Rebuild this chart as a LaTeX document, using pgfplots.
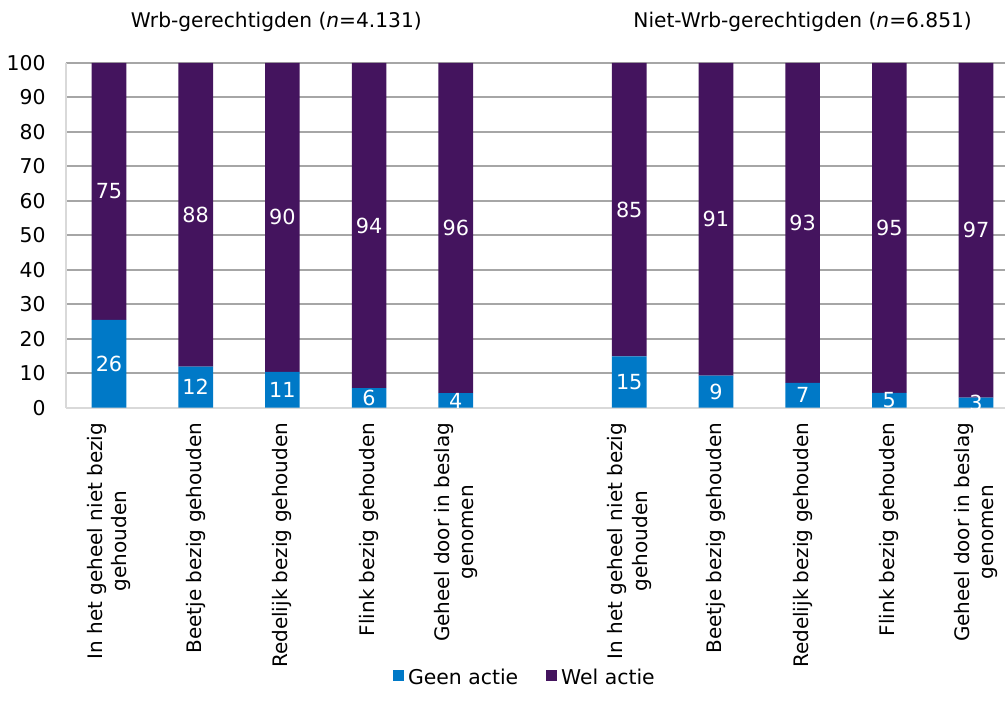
\documentclass[border=0pt]{standalone}
\usepackage{fontspec}
\setmainfont{DejaVu Sans}
\usepackage{pgfplots}
\usepackage{pgfplotstable}
\pgfplotsset{compat=1.18}
\definecolor{geen}{RGB}{0,121,199}
\definecolor{wel}{RGB}{68,20,94}
\definecolor{gridc}{RGB}{166,166,166}
\definecolor{axc}{RGB}{217,217,217}

\pgfplotstableread{
x geen wel
0 25.5 74.5
1 11.9 88.1
2 10.4 89.6
3 5.7 94.3
4 4.2 95.8
6 14.9 85.1
7 9.3 90.7
8 7.2 92.8
9 4.3 95.7
10 2.9 97.1
}\data

\pgfplotstableread{
x y lab
0 12.75 26
1 5.95 12
2 5.2 11
3 2.85 6
4 2.1 4
6 7.45 15
7 4.65 9
8 3.6 7
9 2.15 5
10 1.45 3
0 62.75 75
1 55.95 88
2 55.2 90
3 52.85 94
4 52.1 96
6 57.45 85
7 54.65 91
8 53.6 93
9 52.15 95
10 51.45 97
}\labels

\begin{document}
\begin{tikzpicture}
\begin{axis}[
  scale only axis,
  width=470pt, height=172.5pt,
  xmin=-0.5, xmax=10.334,
  ymin=0, ymax=100,
  ybar stacked, bar width=0.4,
  clip=false,
  axis x line*=bottom, axis y line*=left,
  axis line style={draw=axc, line width=1pt},
  ymajorgrids, grid style={draw=gridc, line width=1pt},
  ytick={0,10,...,100},
  major tick length=0pt,
  /pgf/number format/assume math mode=true,
  yticklabel style={font=\fontsize{10.2}{12}\selectfont},
  yticklabel shift={6.5pt},
  xtick={0,1,2,3,4,6,7,8,9,10},
  xticklabels={{In het geheel niet bezig\\gehouden},{Beetje bezig gehouden},{Redelijk bezig gehouden},{Flink bezig gehouden},{Geheel door in beslag\\genomen},{In het geheel niet bezig\\gehouden},{Beetje bezig gehouden},{Redelijk bezig gehouden},{Flink bezig gehouden},{Geheel door in beslag\\genomen}},
  xticklabel style={rotate=90, anchor=east, align=center, font=\fontsize{10}{12.3}\selectfont},
  xticklabel shift={4pt},
  legend style={at={(0.49,-0.785)}, anchor=center, legend columns=2, draw=none, fill=none,
    font=\fontsize{10.2}{12}\selectfont,
    /tikz/every even column/.append style={column sep=12pt}},
  legend image code/.code={\fill[#1] (0pt,-1.5pt) rectangle (5.5pt,4pt);},
]
\addplot[fill=geen, draw=none] table[x=x, y=geen] {\data};
\addplot[fill=wel, draw=none] table[x=x, y=wel] {\data};
\legend{Geen actie, Wel actie}
\node[font=\fontsize{10.1}{12}\selectfont] at (axis cs:1.93,111.9) {Wrb-gerechtigden (\textit{n}=4.131)};
\node[font=\fontsize{10.1}{12}\selectfont] at (axis cs:8,111.9) {Niet-Wrb-gerechtigden (\textit{n}=6.851)};
\path (axis cs:-1.256,-88.4) rectangle (axis cs:10.334,118.26);
\end{axis}
\begin{axis}[
  scale only axis,
  width=470pt, height=172.5pt,
  xmin=-0.5, xmax=10.334,
  ymin=0, ymax=100,
  hide axis,
]
\addplot[draw=none, mark=none, nodes near coords, point meta=explicit symbolic,
  every node near coord/.append style={anchor=center, text=white, font=\fontsize{10.4}{12}\selectfont}]
  table[x=x, y=y, meta=lab] {\labels};
\end{axis}
\end{tikzpicture}
\end{document}
